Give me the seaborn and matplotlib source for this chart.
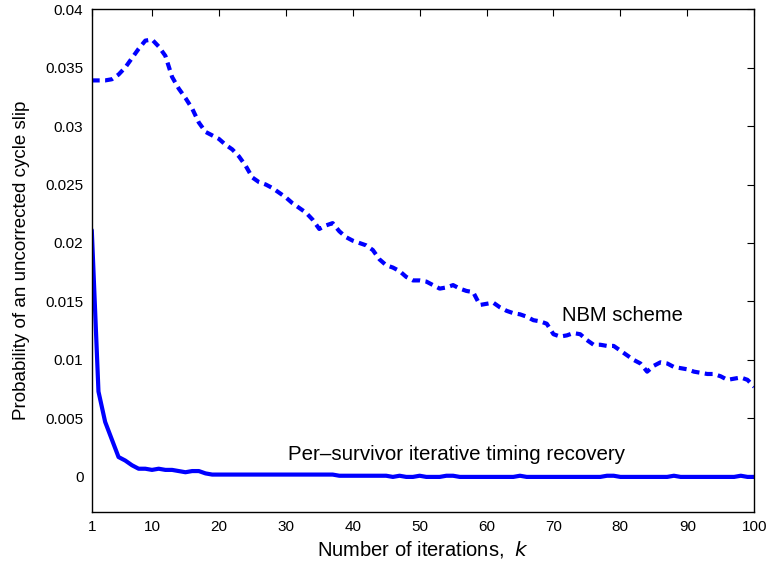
import numpy as np
import pandas as pd
import matplotlib
matplotlib.use("Agg")
import matplotlib.pyplot as plt
import seaborn as sns

iterations = list(range(1, 101))

nbm_scheme = [
    0.0339, 0.0339, 0.0339, 0.0340, 0.0344, 0.0350, 0.0358, 0.0366, 0.0373, 0.0374,
    0.0368, 0.0360, 0.0342, 0.0332, 0.0324, 0.0315, 0.0303, 0.0295, 0.0292, 0.0289,
    0.0284, 0.0280, 0.0274, 0.0266, 0.0256, 0.0252, 0.0250, 0.0247, 0.0243, 0.0239,
    0.0234, 0.0230, 0.0226, 0.0220, 0.0212, 0.0215, 0.0217, 0.0210, 0.0205, 0.0202,
    0.0200, 0.0198, 0.0194, 0.0186, 0.0181, 0.0179, 0.0176, 0.0171, 0.0168, 0.0168,
    0.0167, 0.0164, 0.0161, 0.0162, 0.0164, 0.0161, 0.0159, 0.0158, 0.0147, 0.0148,
    0.0149, 0.0145, 0.0142, 0.0140, 0.0139, 0.0137, 0.0134, 0.0133, 0.0131, 0.0122,
    0.0120, 0.0121, 0.0123, 0.0122, 0.0117, 0.0113, 0.0113, 0.0112, 0.0112, 0.0108,
    0.0104, 0.0100, 0.0097, 0.0090, 0.0095, 0.0098, 0.0097, 0.0094, 0.0093, 0.0092,
    0.0090, 0.0089, 0.0088, 0.0088, 0.0086, 0.0083, 0.0084, 0.0085, 0.0083, 0.0077,
]

per_survivor = [
    0.0211, 0.0073, 0.0047, 0.0032, 0.0017, 0.0014, 0.0010, 0.0007, 0.0007, 0.0006,
    0.0007, 0.0006, 0.0006, 0.0005, 0.0004, 0.0005, 0.0005, 0.0003, 0.0002, 0.0002,
    0.0002, 0.0002, 0.0002, 0.0002, 0.0002, 0.0002, 0.0002, 0.0002, 0.0002, 0.0002,
    0.0002, 0.0002, 0.0002, 0.0002, 0.0002, 0.0002, 0.0002, 0.0001, 0.0001, 0.0001,
    0.0001, 0.0001, 0.0001, 0.0001, 0.0001, 0.0000, 0.0001, 0.0000, 0.0000, 0.0001,
    0.0000, 0.0000, 0.0000, 0.0001, 0.0001, 0.0000, 0.0000, 0.0000, 0.0000, 0.0000,
    0.0000, 0.0000, 0.0000, 0.0000, 0.0001, 0.0000, 0.0000, 0.0000, 0.0000, 0.0000,
    0.0000, 0.0000, 0.0000, 0.0000, 0.0000, 0.0000, 0.0000, 0.0001, 0.0001, 0.0000,
    0.0000, 0.0000, 0.0000, 0.0000, 0.0000, 0.0000, 0.0000, 0.0001, 0.0000, 0.0000,
    0.0000, 0.0000, 0.0000, 0.0000, 0.0000, 0.0000, 0.0000, 0.0001, 0.0000, 0.0000,
]

x_ticks = [1, 10, 20, 30, 40, 50, 60, 70, 80, 90, 100]
x_ticklabels = ["1", "10", "20", "30", "40", "50", "60", "70", "80", "90", "100"]
y_ticks = [0, 0.005, 0.01, 0.015, 0.02, 0.025, 0.03, 0.035, 0.04]
y_ticklabels = ["0", "0.005", "0.01", "0.015", "0.02", "0.025", "0.03", "0.035", "0.04"]

sns.set_style("white")
plt.rcParams["font.family"] = ["Liberation Sans", "DejaVu Sans"]
plt.rcParams["text.color"] = "black"
plt.rcParams["axes.labelcolor"] = "black"

df = pd.DataFrame({"k": iterations, "nbm": nbm_scheme, "ps": per_survivor})

fig = plt.figure(figsize=(7.68, 5.67), dpi=100)
ax = fig.add_axes([0.1195, 0.097, 0.8625, 0.887])

sns.lineplot(data=df, x="k", y="nbm", ax=ax, color="#0000ff", linewidth=3.0,
             linestyle=(0, (1.9, 1.3)))
sns.lineplot(data=df, x="k", y="ps", ax=ax, color="#0000ff", linewidth=3.0)

ax.set_xlim(1, 100)
ax.set_ylim(-0.003, 0.04)
ax.set_xticks(x_ticks)
ax.set_xticklabels(x_ticklabels)
ax.set_yticks(y_ticks)
ax.set_yticklabels(y_ticklabels)
ax.tick_params(axis="both", which="both", direction="in", length=5, width=0.8,
               top=True, right=True, labelsize=11, colors="black",
               labelcolor="black", pad=6)
for s in ax.spines.values():
    s.set_visible(True)
    s.set_color("black")
    s.set_linewidth(1.0)

ax.set_xlabel("Number of iterations,  $\\mathit{k}$", fontsize=14.5, labelpad=3,
              color="black")
ax.set_ylabel("Probability of an uncorrected cycle slip", fontsize=13.5, labelpad=11,
              color="black")

ax.text(71.3, 0.01377, "NBM scheme", fontsize=14.5, va="center", ha="left",
        color="black")
ax.text(30.3, 0.00193, "Per\u2013survivor iterative timing recovery", fontsize=14.8,
        va="center", ha="left", color="black")

fig.savefig("out.png", dpi=100)
